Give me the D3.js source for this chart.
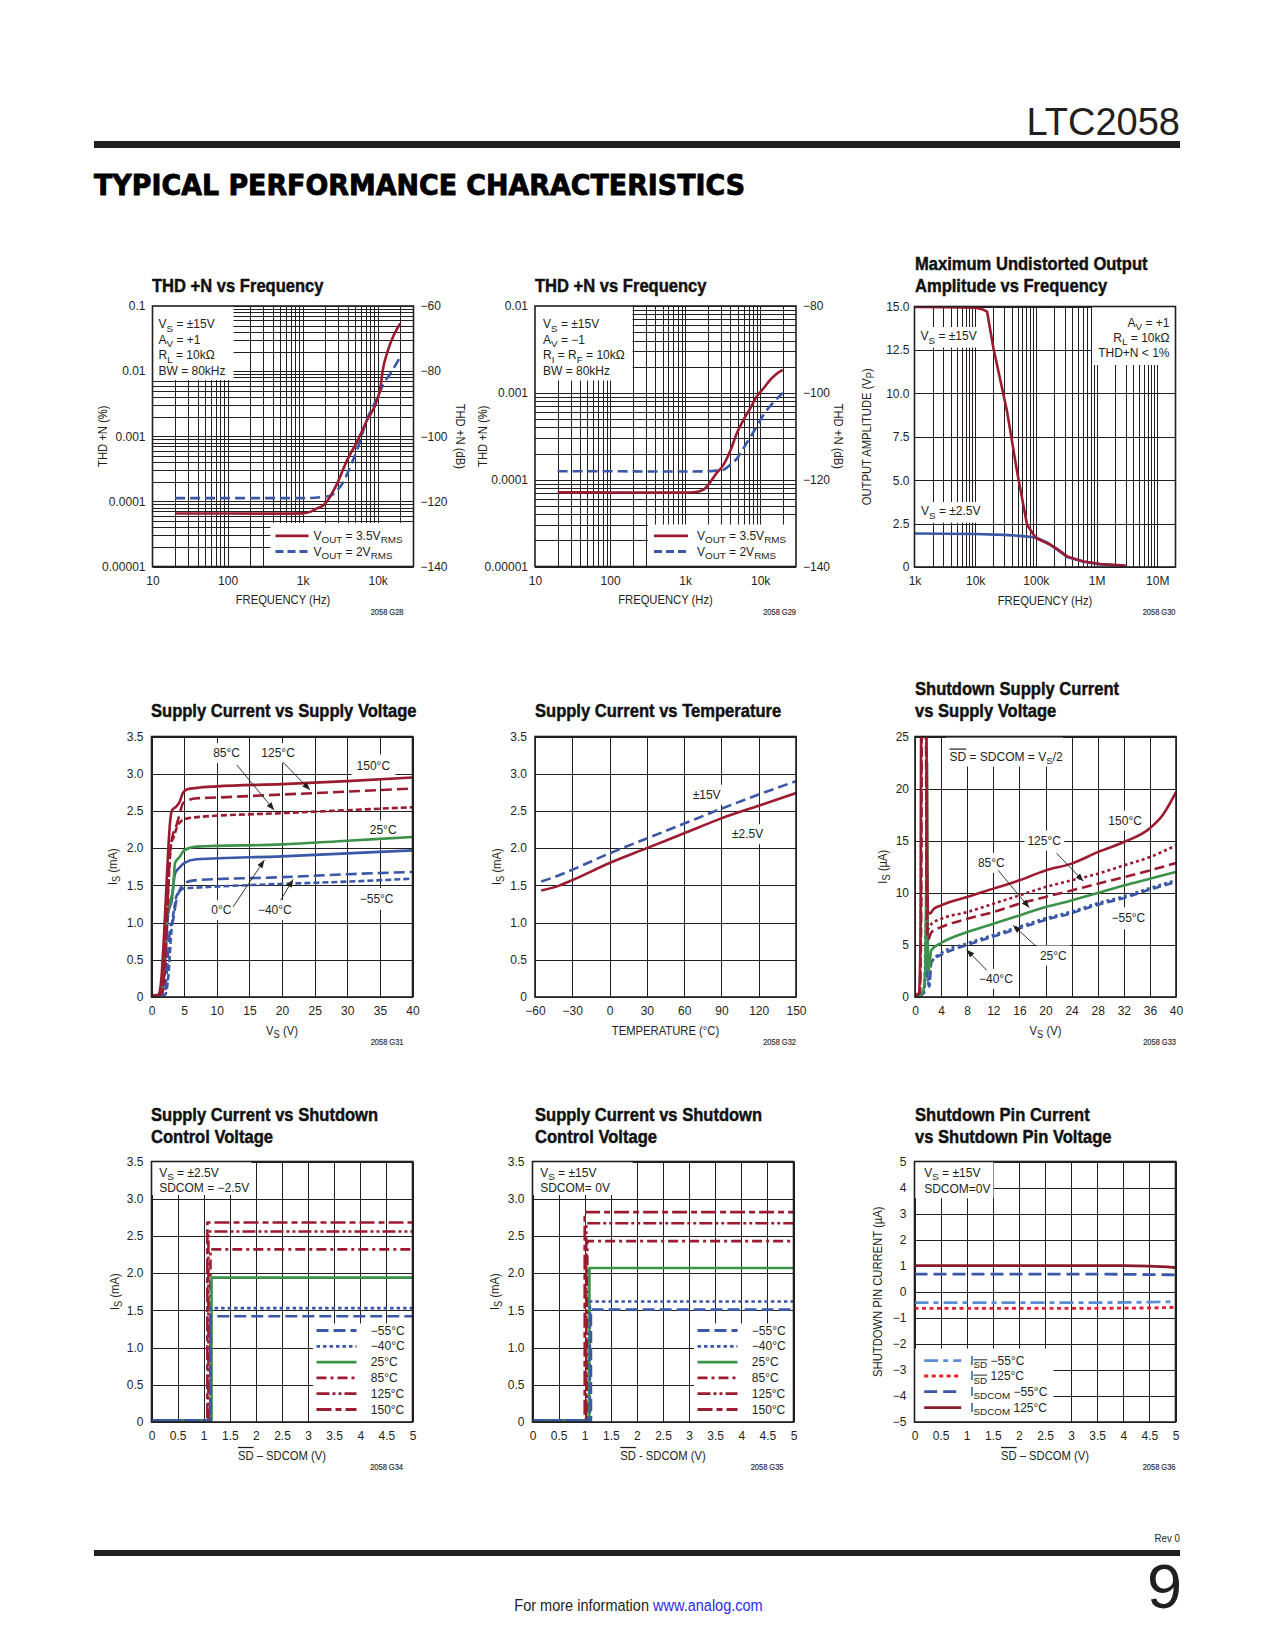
<!DOCTYPE html>
<html>
<head>
<meta charset="utf-8">
<title>LTC2058 Typical Performance Characteristics</title>
<script src="https://cdn.jsdelivr.net/npm/d3@7/dist/d3.min.js"></script>
<style>
html,body{margin:0;padding:0;background:#fff;}
svg{display:block;}
</style>
</head>
<body>
<svg id="page" width="1275" height="1650" viewBox="0 0 1275 1650"></svg>
<script>
// ===================== DATA =====================
// G28 — THD+N vs Frequency (AV = +1)
const g28FreqRed  = [20, 100, 500, 1000, 1260, 1550, 1900, 2880, 3900, 5300, 7200, 10000, 10900, 11700, 13300, 16400, 20000];
const g28ThdRed   = [0.000065, 0.000065, 0.0000648, 0.0000655, 0.000069, 0.000078, 0.000087, 0.000187, 0.000427, 0.00082, 0.00176, 0.0038, 0.0057, 0.0104, 0.0187, 0.0358, 0.054];
const g28FreqBlue = [20, 100, 500, 1000, 1900, 2350, 2880, 3500, 4300, 5300, 7200, 10000, 12100, 14800, 20000];
const g28ThdBlue  = [0.000112, 0.000112, 0.000112, 0.000112, 0.000117, 0.000122, 0.000148, 0.0002, 0.00034, 0.00061, 0.0018, 0.004, 0.0065, 0.0092, 0.0166];
// G29 — THD+N vs Frequency (AV = −1)
const g29FreqRed  = [20, 100, 500, 1000, 1300, 1760, 2630, 3240, 4000, 4900, 6000, 7400, 9000, 11100, 13500, 16600, 20000];
const g29ThdRed   = [0.0000714, 0.0000712, 0.000071, 0.000071, 0.0000715, 0.0000767, 0.000119, 0.000148, 0.000215, 0.000344, 0.00049, 0.000667, 0.00091, 0.00113, 0.0014, 0.00166, 0.00184];
const g29FreqBlue = [20, 100, 500, 1000, 2000, 2600, 3240, 4000, 4900, 6000, 7400, 9000, 11100, 13500, 16600, 20000];
const g29ThdBlue  = [0.000125, 0.000125, 0.000124, 0.000124, 0.000125, 0.000127, 0.00013, 0.000149, 0.000175, 0.000231, 0.00031, 0.00041, 0.00056, 0.0007, 0.00085, 0.001];
const thdLeftTicks28  = [0.1, 0.01, 0.001, 0.0001, 0.00001];
const thdLeftLabels28 = ['0.1', '0.01', '0.001', '0.0001', '0.00001'];
const thdRightLabels28 = ['−60', '−80', '−100', '−120', '−140'];
const thdLeftTicks29  = [0.01, 0.001, 0.0001, 0.00001];
const thdLeftLabels29 = ['0.01', '0.001', '0.0001', '0.00001'];
const thdRightLabels29 = ['−80', '−100', '−120', '−140'];
const thdFreqTicks  = [10, 100, 1000, 10000];
const thdFreqLabels = ['10', '100', '1k', '10k'];
// G30 — Maximum undistorted output amplitude vs frequency
const g30Freq15 = [1000, 3000, 10000, 13000, 15700, 20000, 33500, 49000, 71600, 100000, 174000, 224000, 327000, 614000, 1150000, 3000000];
const g30Vp15   = [14.97, 14.96, 14.93, 14.85, 14.7, 12.6, 8.96, 5.5, 2.43, 1.67, 1.28, 1.05, 0.61, 0.32, 0.17, 0.09];
const g30Freq25 = [1000, 10000, 30000, 60000, 100000, 153000, 224000, 327000, 614000, 1150000, 3000000];
const g30Vp25   = [1.93, 1.9, 1.85, 1.78, 1.7, 1.42, 1.0, 0.58, 0.3, 0.15, 0.07];
const g30FreqTicks  = [1e3, 1e4, 1e5, 1e6, 1e7];
const g30FreqLabels = ['1k', '10k', '100k', '1M', '10M'];
const g30VpTicks  = [0, 2.5, 5, 7.5, 10, 12.5, 15];
const g30VpLabels = ['0', '2.5', '5.0', '7.5', '10.0', '12.5', '15.0'];
// G31 — Supply current vs supply voltage  [VS (V), IS (mA)]
const g31T150 = [[0.3,0.02],[1.0,0.03],[1.4,0.15],[1.9,0.8],[2.4,1.7],[2.8,2.3],[3.1,2.5],[3.8,2.56],[4.3,2.62],[4.8,2.74],[5.5,2.79],[7,2.81],[10,2.83],[20,2.86],[30,2.9],[40,2.95]];
const g31T125 = [[0.3,0.02],[1.3,0.03],[1.8,0.2],[2.3,1.0],[2.8,1.9],[3.2,2.15],[3.8,2.3],[4.3,2.45],[4.8,2.6],[5.5,2.64],[7,2.67],[10,2.68],[20,2.72],[30,2.76],[40,2.8]];
const g31T85  = [[0.3,0.02],[1.5,0.03],[2.0,0.3],[2.5,1.3],[3.0,2.05],[3.4,2.15],[3.9,2.28],[4.5,2.36],[5.5,2.4],[7.4,2.42],[20,2.47],[30,2.51],[40,2.55]];
const g31T25  = [[0.3,0.02],[1.4,0.03],[1.9,0.4],[2.3,1.03],[2.9,1.3],[3.3,1.45],[3.6,1.8],[4.3,1.88],[5,1.97],[6.9,2.02],[20,2.05],[30,2.1],[40,2.15]];
const g31T0   = [[0.3,0.02],[1.6,0.03],[2.1,0.5],[2.55,1.12],[3.1,1.3],[3.6,1.66],[4.3,1.74],[5,1.8],[6.9,1.85],[20,1.89],[30,1.93],[40,1.97]];
const g31Tm40 = [[0.3,0.02],[2.0,0.03],[2.4,0.4],[2.9,0.95],[3.3,1.03],[3.8,1.3],[4.3,1.43],[5,1.53],[6.9,1.57],[20,1.61],[30,1.65],[40,1.68]];
const g31Tm55 = [[0.3,0.02],[2.1,0.03],[2.6,0.3],[3.06,0.9],[3.5,1.2],[3.8,1.35],[4.3,1.42],[5,1.46],[6.9,1.47],[20,1.52],[30,1.55],[40,1.59]];
const vs40Ticks  = [0, 5, 10, 15, 20, 25, 30, 35, 40];
const vs40Labels = ['0', '5', '10', '15', '20', '25', '30', '35', '40'];
const ma35Ticks  = [0, 0.5, 1, 1.5, 2, 2.5, 3, 3.5];
const ma35Labels = ['0', '0.5', '1.0', '1.5', '2.0', '2.5', '3.0', '3.5'];
// G32 — Supply current vs temperature
const g32Temp  = [-55, -40, -30, 0, 30, 60, 90, 120, 150];
const g32Is15  = [1.55, 1.64, 1.71, 1.93, 2.13, 2.33, 2.53, 2.72, 2.9];
const g32Is25  = [1.43, 1.5, 1.57, 1.8, 2.0, 2.2, 2.4, 2.57, 2.74];
const g32TempTicks  = [-60, -30, 0, 30, 60, 90, 120, 150];
const g32TempLabels = ['−60', '−30', '0', '30', '60', '90', '120', '150'];
// G33 — Shutdown supply current vs supply voltage [VS (V), IS (µA)]
const g33T150 = [[0.2,0.2],[0.6,0.4],[0.85,6],[0.95,27],[1.75,27],[1.85,14],[2.0,8.2],[2.3,8.0],[2.8,8.4],[4,8.8],[8,9.6],[12,10.4],[16,11.2],[20,12.15],[24,12.8],[28,13.9],[32,14.87],[36,16.2],[38,17.5],[40,19.66]];
const g33T125 = [[0.2,0.2],[0.7,0.4],[0.9,8],[1.0,27],[1.7,27],[1.8,10],[2.0,6.5],[2.5,7.0],[4,7.5],[8,8.15],[12,8.95],[16,9.75],[20,10.55],[24,11.2],[28,11.83],[32,12.63],[36,13.43],[40,14.55]];
const g33T85  = [[0.2,0.2],[0.75,0.4],[0.95,8],[1.05,27],[1.65,27],[1.8,9],[2.0,5.5],[2.5,6.2],[4,6.7],[8,7.5],[12,8.15],[16,8.95],[20,9.6],[24,10.23],[28,10.87],[32,11.5],[36,12.15],[40,12.85]];
const g33T25  = [[0.2,0.1],[1.0,0.3],[1.4,1.0],[1.6,3],[1.75,14],[1.85,22.5],[1.95,6],[2.1,2.5],[2.5,4.5],[4,5.18],[8,6.23],[12,7.03],[16,7.83],[20,8.63],[24,9.27],[28,9.97],[32,10.7],[36,11.35],[40,12.0]];
const g33Tm40 = [[0.5,0.1],[1.3,0.4],[1.5,2],[1.7,8],[1.85,3],[2.1,1.2],[2.4,3],[2.8,3.6],[4,4.2],[8,5.15],[12,5.95],[16,6.75],[20,7.55],[24,8.2],[28,9.0],[32,9.65],[36,10.45],[40,11.2]];
const g33Tm55 = [[0.5,0.1],[1.4,0.4],[1.6,3],[1.75,7.5],[1.9,2],[2.2,1],[2.5,3.3],[3,3.7],[4,4.05],[8,5.0],[12,5.8],[16,6.6],[20,7.4],[24,8.05],[28,8.85],[32,9.5],[36,10.3],[40,11.05]];
const g33VsTicks  = [0, 4, 8, 12, 16, 20, 24, 28, 32, 36, 40];
const g33VsLabels = ['0', '4', '8', '12', '16', '20', '24', '28', '32', '36', '40'];
const g33IsTicks  = [0, 5, 10, 15, 20, 25];
const g33IsLabels = ['0', '5', '10', '15', '20', '25'];
// G34 / G35 — Supply current vs shutdown control voltage
const sdTemps   = ['−55°C', '−40°C', '25°C', '85°C', '125°C', '150°C'];
const g34OnV    = [1.13, 1.13, 1.15, 1.13, 1.09, 1.07];
const g34IsOn   = [1.42, 1.53, 1.94, 2.32, 2.56, 2.68];
const g35OnV    = [1.12, 1.1, 1.09, 1.05, 1.03, 1.0];
const g35IsOn   = [1.51, 1.62, 2.07, 2.43, 2.67, 2.82];
const sdIsOff   = 0.02;
const sdVTicks  = [0, 0.5, 1, 1.5, 2, 2.5, 3, 3.5, 4, 4.5, 5];
const sdVLabels = ['0', '0.5', '1', '1.5', '2', '2.5', '3', '3.5', '4', '4.5', '5'];
// G36 — Shutdown pin current vs shutdown pin voltage
const g36V          = [0, 1, 2, 3, 4, 4.5, 5];
const g36IsdM55     = [-0.42, -0.42, -0.42, -0.42, -0.41, -0.40, -0.38];
const g36Isd125     = [-0.64, -0.64, -0.64, -0.64, -0.63, -0.62, -0.60];
const g36IsdcomM55  = [0.68, 0.68, 0.68, 0.68, 0.67, 0.66, 0.65];
const g36Isdcom125  = [1.0, 1.0, 1.0, 1.0, 1.0, 0.98, 0.93];
const g36ITicks  = [5, 4, 3, 2, 1, 0, -1, -2, -3, -4, -5];
const g36ILabels = ['5', '4', '3', '2', '1', '0', '−1', '−2', '−3', '−4', '−5'];

// ===================== STYLE / HELPERS =====================
const svg = d3.select('#page');
const FONT = "'Liberation Sans', Arial, Helvetica, sans-serif";
const INK = '#231f20';
const RED = '#9b1b30', BLUE = '#3b58a8', GREEN = '#3d9249', LBLUE = '#5b8fd4', BRED = '#e4202e', DRED = '#8c1a2c';
const W = 261, H = 260.5;
let clipCount = 0;

svg.append('rect').attr('width', 1275).attr('height', 1650).attr('fill', '#fff');
const defs = svg.append('defs');
defs.append('marker').attr('id', 'arrowhead').attr('viewBox', '0 0 10 10')
  .attr('refX', 10).attr('refY', 5).attr('markerWidth', 8).attr('markerHeight', 8)
  .attr('markerUnits', 'userSpaceOnUse').attr('orient', 'auto')
  .append('path').attr('d', 'M0,1.2L10,5L0,8.8Z').attr('fill', INK);

const zip = (a, b) => a.map((v, i) => [v, b[i]]);
const crisp = v => Math.round(v) + 0.5;

function rich(t, markup, size) {
  const parts = markup.split(/(_\{[^}]*\}|~\{[^}]*\}|\^\{[^}]*\})/).filter(s => s.length);
  const drop = size * 0.3;
  let off = 0;
  for (const p of parts) {
    let m, s = p, sub = false, over = false;
    if ((m = p.match(/^_\{(.*)\}$/))) { s = m[1]; sub = true; }
    else if ((m = p.match(/^~\{(.*)\}$/))) { s = m[1]; over = true; }
    else if ((m = p.match(/^\^\{(.*)\}$/))) { s = m[1]; sub = true; over = true; }
    const target = sub ? drop : 0;
    const ts = t.append('tspan').text(s);
    if (target !== off) ts.attr('dy', target - off);
    off = target;
    if (sub) ts.attr('font-size', size * 0.82);
    if (over) ts.style('text-decoration', 'overline');
  }
}

function txt(parent, x, y, markup, o = {}) {
  const size = o.size || 12;
  const yy = o.mid ? y + size * 0.35 : y;
  const sx = o.sx || 1;
  let tr = `translate(${x},${yy})`;
  if (o.rot) tr += ` rotate(${o.rot})`;
  if (sx !== 1) tr += ` scale(${sx},1)`;
  const g = parent.append('g').attr('transform', tr);
  const t = g.append('text').attr('font-family', o.family || FONT).attr('font-size', size)
    .attr('font-weight', o.weight || 400).attr('fill', o.fill || INK)
    .attr('text-anchor', o.anchor || 'start');
  if (o.stroke) t.attr('stroke', o.fill || INK).attr('stroke-width', o.stroke).attr('stroke-linejoin', 'round');
  if (o.textLength) t.attr('textLength', o.textLength).attr('lengthAdjust', 'spacingAndGlyphs');
  rich(t, markup, size);
  if (o.bg) {
    const b = t.node().getBBox(), p = o.pad == null ? 2 : o.pad;
    o.bg.append('rect').attr('x', x + b.x * sx - p).attr('y', yy + b.y - p)
      .attr('width', b.width * sx + 2 * p).attr('height', b.height + 2 * p);
  }
  return t;
}

function makePanel(left, top, xScale, yScale) {
  const P = { left, top, right: left + W, bottom: top + H };
  P.x = xScale.copy().range([left, left + W]);
  P.y = yScale.copy().range([top + H, top]);
  const root = svg.append('g');
  P.grid = root.append('g').attr('stroke', INK).attr('stroke-width', 1);
  P.bg = root.append('g').attr('fill', '#fff');
  const cid = 'clip' + (clipCount++);
  root.append('clipPath').attr('id', cid).append('rect')
    .attr('x', left).attr('y', top).attr('width', W).attr('height', H);
  P.lines = root.append('g').attr('clip-path', `url(#${cid})`).attr('fill', 'none');
  root.append('rect').attr('x', left).attr('y', top).attr('width', W).attr('height', H)
    .attr('fill', 'none').attr('stroke', INK).attr('stroke-width', 1.6);
  P.text = root.append('g');
  return P;
}

function drawGrid(P, xv, yv) {
  P.grid.selectAll(null).data(xv).join('line')
    .attr('x1', d => crisp(P.x(d))).attr('x2', d => crisp(P.x(d)))
    .attr('y1', P.top).attr('y2', P.bottom);
  P.grid.selectAll(null).data(yv).join('line')
    .attr('x1', P.left).attr('x2', P.right)
    .attr('y1', d => crisp(P.y(d))).attr('y2', d => crisp(P.y(d)));
}

function logGrid(a, b) {
  const out = [];
  for (let e = Math.floor(Math.log10(a)); e <= Math.ceil(Math.log10(b)); e++) {
    for (let k = 1; k < 10; k++) {
      const v = k * Math.pow(10, e);
      if (v >= a * 0.999 && v <= b * 1.001) out.push(v);
    }
  }
  return out;
}
const linGrid = (a, b, s) => d3.range(a, b + s / 1000, s);

function whiteBox(P, x1, y1, x2, y2) {
  P.bg.append('rect').attr('x', x1).attr('y', y1).attr('width', x2 - x1).attr('height', y2 - y1);
}

function plotLine(P, pts, st) {
  const gen = d3.line().x(d => P.x(d[0])).y(d => P.y(d[1])).curve(st.curve || d3.curveMonotoneX);
  P.lines.append('path').attr('d', gen(pts)).attr('stroke', st.color)
    .attr('stroke-width', st.width || 2.6).attr('stroke-dasharray', st.dash || null)
    .attr('stroke-linejoin', 'round');
}

function styleAxis(g) {
  g.select('.domain').remove();
  g.attr('font-family', FONT).attr('font-size', 12).attr('color', INK);
  g.selectAll('text').attr('fill', INK);
}
function bottomAxis(P, vals, labels) {
  P.text.append('g').attr('transform', `translate(0,${P.bottom})`)
    .call(d3.axisBottom(P.x).tickValues(vals).tickFormat((d, i) => labels[i]).tickSize(0).tickPadding(9.5))
    .call(styleAxis);
}
function leftAxis(P, vals, labels, pad) {
  P.text.append('g').attr('transform', `translate(${P.left},0)`)
    .call(d3.axisLeft(P.y).tickValues(vals).tickFormat((d, i) => labels[i]).tickSize(0).tickPadding(pad || 7))
    .call(styleAxis);
}
function rightAxis(P, vals, labels) {
  P.text.append('g').attr('transform', `translate(${P.right},0)`)
    .call(d3.axisRight(P.y).tickValues(vals).tickFormat((d, i) => labels[i]).tickSize(0).tickPadding(7))
    .call(styleAxis);
}

function chartTitle(x, baseline, lines) {
  lines.forEach((s, i) => txt(svg, x, baseline - (lines.length - 1 - i) * 22, s,
    { size: 18.5, weight: 700, sx: 0.895, fill: '#111', stroke: 0.45 }));
}
function xTitle(P, s) {
  txt(P.text, (P.left + P.right) / 2, P.bottom + 37.5, s, { anchor: 'middle', size: 12.5, sx: 0.9 });
}
function yTitle(P, cx, s, right) {
  if (right) txt(P.text, cx - 4.5, (P.top + P.bottom) / 2, s, { anchor: 'middle', size: 12.5, sx: 0.9, rot: 90 });
  else txt(P.text, cx + 4.5, (P.top + P.bottom) / 2, s, { anchor: 'middle', size: 12.5, sx: 0.9, rot: -90 });
}
function figId(P, s, inset) {
  txt(P.text, P.right - inset, P.bottom + 48, s, { anchor: 'end', size: 8.5, sx: 0.88, fill: '#333', stroke: 0.2 });
}
function note(P, xv, yv, s, o = {}) {
  return txt(P.text, P.x(xv), P.y(yv), s, Object.assign({ anchor: 'middle', mid: true, bg: P.bg, pad: 3 }, o));
}
function arrow(P, a, b) {
  P.text.append('line').attr('x1', P.x(a[0])).attr('y1', P.y(a[1]))
    .attr('x2', P.x(b[0])).attr('y2', P.y(b[1]))
    .attr('stroke', INK).attr('stroke-width', 0.9).attr('marker-end', 'url(#arrowhead)');
}
function legendRow(P, x1, x2, tx, y, st, label) {
  P.text.append('line').attr('x1', x1).attr('x2', x2).attr('y1', y).attr('y2', y)
    .attr('stroke', st.color).attr('stroke-width', st.width || 2.8).attr('stroke-dasharray', st.dash || null);
  txt(P.text, tx, y + 4, label, { size: 12 });
}

// ===================== PAGE HEADER / FOOTER =====================
txt(svg, 1180, 135, 'LTC2058', { anchor: 'end', size: 38, fill: INK });
svg.append('rect').attr('x', 94).attr('y', 141).attr('width', 1086).attr('height', 7).attr('fill', INK);
txt(svg, 94, 195, 'TYPICAL PERFORMANCE CHARACTERISTICS',
  { size: 29, weight: 700, family: "'DejaVu Sans', sans-serif", textLength: 651, fill: '#000', stroke: 0.9 });

svg.append('rect').attr('x', 94).attr('y', 1550).attr('width', 1086).attr('height', 6).attr('fill', INK);
txt(svg, 1180, 1542, 'Rev 0', { anchor: 'end', size: 11.5, sx: 0.85 });
txt(svg, 1182, 1608, '9', { anchor: 'end', size: 63 });
{
  const g = svg.append('g').attr('transform', 'translate(638.5,1611) scale(0.88,1)');
  const t = g.append('text').attr('font-family', FONT).attr('font-size', 16.5).attr('text-anchor', 'middle').attr('fill', INK);
  t.append('tspan').text('For more information ');
  t.append('tspan').attr('fill', '#2a2ae6').text('www.analog.com');
}

// ===================== G28 =====================
{
  chartTitle(152, 292, ['THD +N vs Frequency']);
  const P = makePanel(152.5, 306, d3.scaleLog().domain([10, 30000]), d3.scaleLog().domain([1e-5, 0.1]));
  drawGrid(P, logGrid(20, 20000), logGrid(1e-5, 0.1));
  whiteBox(P, P.left, P.top, P.left + 81, P.top + 74);
  whiteBox(P, P.right - 143, P.bottom - 43.5, P.right, P.bottom);
  plotLine(P, zip(g28FreqBlue, g28ThdBlue), { color: BLUE, dash: '10,5' });
  plotLine(P, zip(g28FreqRed, g28ThdRed), { color: RED });
  ['V_{S} = ±15V', 'A_{V} = +1', 'R_{L} = 10kΩ', 'BW = 80kHz'].forEach((s, i) =>
    txt(P.text, P.left + 6, P.top + 22 + i * 15.7, s));
  legendRow(P, P.right - 138, P.right - 105, P.right - 100, P.bottom - 30.7, { color: RED }, 'V_{OUT} = 3.5V_{RMS}');
  legendRow(P, P.right - 138, P.right - 105, P.right - 100, P.bottom - 15, { color: BLUE, dash: '8,4' }, 'V_{OUT} = 2V_{RMS}');
  bottomAxis(P, thdFreqTicks, thdFreqLabels);
  leftAxis(P, thdLeftTicks28, thdLeftLabels28);
  rightAxis(P, thdLeftTicks28, thdRightLabels28);
  xTitle(P, 'FREQUENCY (Hz)');
  yTitle(P, 102, 'THD +N (%)');
  yTitle(P, 460, 'THD +N (dB)', true);
  figId(P, '2058 G28', 10);
}

// ===================== G29 =====================
{
  chartTitle(535, 292, ['THD +N vs Frequency']);
  const P = makePanel(535, 306, d3.scaleLog().domain([10, 30000]), d3.scaleLog().domain([1e-5, 0.01]));
  drawGrid(P, logGrid(20, 20000), logGrid(1e-5, 0.01));
  whiteBox(P, P.left, P.top, P.left + 97.5, P.top + 74.5);
  whiteBox(P, P.right - 148, P.bottom - 42, P.right, P.bottom);
  plotLine(P, zip(g29FreqBlue, g29ThdBlue), { color: BLUE, dash: '10,5' });
  plotLine(P, zip(g29FreqRed, g29ThdRed), { color: RED });
  ['V_{S} = ±15V', 'A_{V} = −1', 'R_{I} = R_{F} = 10kΩ', 'BW = 80kHz'].forEach((s, i) =>
    txt(P.text, P.left + 8, P.top + 22 + i * 15.7, s));
  legendRow(P, P.right - 142, P.right - 108, P.right - 99, P.bottom - 30.7, { color: RED }, 'V_{OUT} = 3.5V_{RMS}');
  legendRow(P, P.right - 142, P.right - 108, P.right - 99, P.bottom - 15, { color: BLUE, dash: '8,4' }, 'V_{OUT} = 2V_{RMS}');
  bottomAxis(P, thdFreqTicks, thdFreqLabels);
  leftAxis(P, thdLeftTicks29, thdLeftLabels29);
  rightAxis(P, thdLeftTicks29, thdRightLabels29);
  xTitle(P, 'FREQUENCY (Hz)');
  yTitle(P, 482, 'THD +N (%)');
  yTitle(P, 838, 'THD +N (dB)', true);
  figId(P, '2058 G29', 0);
}

// ===================== G30 =====================
{
  chartTitle(915, 292, ['Maximum Undistorted Output', 'Amplitude vs Frequency']);
  const P = makePanel(914.5, 306.5, d3.scaleLog().domain([1e3, 2e7]), d3.scaleLinear().domain([0, 15]));
  drawGrid(P, logGrid(2000, 1e7), linGrid(0, 15, 2.5));
  whiteBox(P, P.right - 83.5, P.top, P.right, P.top + 58.5);
  plotLine(P, zip(g30Freq25, g30Vp25), { color: BLUE, curve: d3.curveLinear });
  plotLine(P, zip(g30Freq15, g30Vp15), { color: RED, curve: d3.curveLinear });
  txt(P.text, P.left + 6, P.top + 33.5, 'V_{S} = ±15V', { bg: P.bg, pad: 2 });
  txt(P.text, P.left + 6.5, P.top + 208.5, 'V_{S} = ±2.5V', { bg: P.bg, pad: 2 });
  ['A_{V} = +1', 'R_{L} = 10kΩ', 'THD+N < 1%'].forEach((s, i) =>
    txt(P.text, P.right - 6, P.top + 20 + i * 15, s, { anchor: 'end' }));
  bottomAxis(P, g30FreqTicks, g30FreqLabels);
  leftAxis(P, g30VpTicks, g30VpLabels, 5);
  xTitle(P, 'FREQUENCY (Hz)');
  yTitle(P, 866, 'OUTPUT AMPLITUDE (V_{P})');
  figId(P, '2058 G30', 0);
}

// ===================== G31 =====================
{
  chartTitle(151, 717, ['Supply Current vs Supply Voltage']);
  const P = makePanel(151.5, 736.5, d3.scaleLinear().domain([0, 40]), d3.scaleLinear().domain([0, 3.5]));
  drawGrid(P, linGrid(0, 40, 5), linGrid(0, 3.5, 0.5));
  plotLine(P, g31Tm55, { color: BLUE, dash: '6,3' });
  plotLine(P, g31Tm40, { color: BLUE, dash: '11,5' });
  plotLine(P, g31T0, { color: BLUE });
  plotLine(P, g31T25, { color: GREEN });
  plotLine(P, g31T85, { color: RED, dash: '6,3' });
  plotLine(P, g31T125, { color: RED, dash: '11,5' });
  plotLine(P, g31T150, { color: RED });
  note(P, 11.5, 3.28, '85°C');
  note(P, 19.4, 3.28, '125°C');
  note(P, 34.0, 3.10, '150°C', { pad: 5 });
  note(P, 35.5, 2.24, '25°C');
  note(P, 10.7, 1.17, '0°C');
  note(P, 18.9, 1.17, '−40°C');
  note(P, 34.5, 1.32, '−55°C', { pad: 4 });
  arrow(P, [13.05, 3.12], [18.8, 2.51]);
  arrow(P, [20.1, 3.16], [24.3, 2.78]);
  arrow(P, [12.5, 1.21], [17.3, 1.84]);
  arrow(P, [19.8, 1.30], [21.7, 1.58]);
  bottomAxis(P, vs40Ticks, vs40Labels);
  leftAxis(P, ma35Ticks, ma35Labels, 8);
  xTitle(P, 'V_{S} (V)');
  yTitle(P, 112, 'I_{S} (mA)');
  figId(P, '2058 G31', 9);
}

// ===================== G32 =====================
{
  chartTitle(535, 717, ['Supply Current vs Temperature']);
  const P = makePanel(535, 736.5, d3.scaleLinear().domain([-60, 150]), d3.scaleLinear().domain([0, 3.5]));
  drawGrid(P, linGrid(-60, 150, 30), linGrid(0, 3.5, 0.5));
  plotLine(P, zip(g32Temp, g32Is25), { color: RED });
  plotLine(P, zip(g32Temp, g32Is15), { color: BLUE, dash: '10,5' });
  note(P, 78.1, 2.72, '±15V');
  note(P, 111, 2.19, '±2.5V');
  bottomAxis(P, g32TempTicks, g32TempLabels);
  leftAxis(P, ma35Ticks, ma35Labels, 8);
  xTitle(P, 'TEMPERATURE (°C)');
  yTitle(P, 496, 'I_{S} (mA)');
  figId(P, '2058 G32', 0);
}

// ===================== G33 =====================
{
  chartTitle(915, 717, ['Shutdown Supply Current', 'vs Supply Voltage']);
  const P = makePanel(915, 736.5, d3.scaleLinear().domain([0, 40]), d3.scaleLinear().domain([0, 25]));
  drawGrid(P, linGrid(0, 40, 4), linGrid(0, 25, 5));
  whiteBox(P, P.left + 31, P.top + 1, P.left + 148, P.top + 30);
  plotLine(P, g33Tm55, { color: BLUE, dash: '8,4' });
  plotLine(P, g33Tm40, { color: BLUE, dash: '3,3' });
  plotLine(P, g33T25, { color: GREEN });
  plotLine(P, g33T85, { color: RED, dash: '10,5' });
  plotLine(P, g33T125, { color: RED, dash: '3,3' });
  plotLine(P, g33T150, { color: RED });
  txt(P.text, P.left + 34.5, P.top + 24, '~{SD} = SDCOM = V_{S}/2');
  note(P, 32.2, 16.95, '150°C');
  note(P, 19.8, 15.03, '125°C');
  note(P, 11.7, 12.89, '85°C');
  note(P, 21.2, 4.0, '25°C');
  note(P, 12.4, 1.76, '−40°C');
  note(P, 32.7, 7.57, '−55°C', { pad: 4 });
  arrow(P, [21.7, 13.8], [25.8, 11.12]);
  arrow(P, [12.75, 12.15], [17.5, 8.57]);
  arrow(P, [18.4, 4.96], [15.05, 6.87]);
  arrow(P, [11.0, 2.56], [7.9, 4.54]);
  bottomAxis(P, g33VsTicks, g33VsLabels);
  leftAxis(P, g33IsTicks, g33IsLabels, 6);
  xTitle(P, 'V_{S} (V)');
  yTitle(P, 882, 'I_{S} (µA)');
  figId(P, '2058 G33', 0);
}

// ===================== G34 / G35 =====================
const sdColors = [BLUE, BLUE, GREEN, RED, RED, RED];
const sdDashes = ['12,5', '3.5,3', null, '10,4,3,4', '13,3,3,3,3,3', '15,4,6,4'];
function sdChart(left, titleX, onV, isOn, note1, note2, xt, id, inset, yTitleX) {
  chartTitle(titleX, 1143.3, ['Supply Current vs Shutdown', 'Control Voltage']);
  const P = makePanel(left, 1161.5, d3.scaleLinear().domain([0, 5]), d3.scaleLinear().domain([0, 3.5]));
  drawGrid(P, linGrid(0, 5, 0.5), linGrid(0, 3.5, 0.5));
  whiteBox(P, P.left, P.top, P.left + 100, P.top + 33.5);
  whiteBox(P, P.right - 99.5, P.bottom - 98.5, P.right, P.bottom);
  for (let i = sdTemps.length - 1; i >= 0; i--) {
    const pts = [[0, sdIsOff], [onV[i], sdIsOff], [onV[i], isOn[i]], [5, isOn[i]]];
    plotLine(P, pts, { color: sdColors[i], dash: sdDashes[i], curve: d3.curveLinear });
  }
  txt(P.text, P.left + 7.7, P.top + 15.2, note1);
  txt(P.text, P.left + 7.7, P.top + 30.8, note2);
  sdTemps.forEach((s, i) => legendRow(P, P.right - 96, P.right - 56, P.right - 41.7,
    P.bottom - 91.5 + i * 15.8, { color: sdColors[i], dash: sdDashes[i] }, s));
  bottomAxis(P, sdVTicks, sdVLabels);
  leftAxis(P, ma35Ticks, ma35Labels, 8);
  xTitle(P, xt);
  yTitle(P, yTitleX, 'I_{S} (mA)');
  figId(P, id, inset);
}
sdChart(151.5, 151, g34OnV, g34IsOn, 'V_{S} = ±2.5V', 'SDCOM = −2.5V', '~{SD} – SDCOM (V)', '2058 G34', 9.5, 114);
sdChart(532.5, 535, g35OnV, g35IsOn, 'V_{S} = ±15V', 'SDCOM= 0V', '~{SD} - SDCOM (V)', '2058 G35', 10, 494);

// ===================== G36 =====================
{
  chartTitle(915, 1143.3, ['Shutdown Pin Current', 'vs Shutdown Pin Voltage']);
  const P = makePanel(914.5, 1161.5, d3.scaleLinear().domain([0, 5]), d3.scaleLinear().domain([-5, 5]));
  drawGrid(P, linGrid(0, 5, 0.5), linGrid(-5, 5, 1));
  whiteBox(P, P.left, P.top, P.left + 79, P.top + 36.7);
  whiteBox(P, P.left, P.bottom - 73.5, P.left + 139, P.bottom);
  const st = [
    { color: LBLUE, dash: '14,5,5,5', width: 2.8 },
    { color: BRED, dash: '4,3.5', width: 2.8 },
    { color: BLUE, dash: '13,6', width: 2.8 },
    { color: DRED, width: 2.8 }
  ];
  plotLine(P, zip(g36V, g36IsdM55), st[0]);
  plotLine(P, zip(g36V, g36Isd125), st[1]);
  plotLine(P, zip(g36V, g36IsdcomM55), st[2]);
  plotLine(P, zip(g36V, g36Isdcom125), st[3]);
  txt(P.text, P.left + 9.7, P.top + 15.2, 'V_{S} = ±15V');
  txt(P.text, P.left + 9.7, P.top + 31.8, 'SDCOM=0V');
  const labs = ['I^{SD} −55°C', 'I^{SD} 125°C', 'I_{SDCOM} −55°C', 'I_{SDCOM} 125°C'];
  const rows = [-61.3, -46, -30.3, -14.3];
  labs.forEach((s, i) => legendRow(P, P.left + 9.7, P.left + 46.7, P.left + 55.7, P.bottom + rows[i], st[i], s));
  bottomAxis(P, sdVTicks, sdVLabels);
  leftAxis(P, g36ITicks, g36ILabels, 8);
  xTitle(P, '~{SD} – SDCOM (V)');
  yTitle(P, 877, 'SHUTDOWN PIN CURRENT (µA)');
  figId(P, '2058 G36', 0);
}
</script>
</body>
</html>
